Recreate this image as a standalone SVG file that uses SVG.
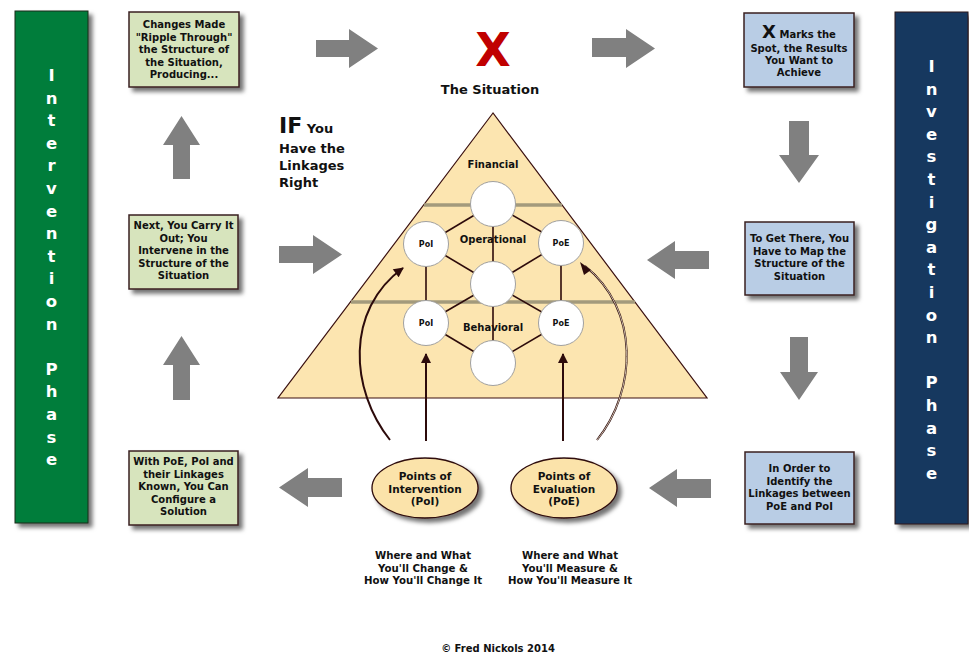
<svg xmlns="http://www.w3.org/2000/svg" width="969" height="654" viewBox="0 0 969 654">
<style>
text{font-family:"DejaVu Sans","Liberation Sans",sans-serif;font-weight:bold;fill:#111;text-anchor:middle}
.bar text{fill:#fff;font-size:16.5px}
.box text{font-size:10px}
.gbox{fill:#d7e4bd;stroke:#3b1f1f;stroke-width:1.5}
.bbox{fill:#b9cde5;stroke:#3b1f1f;stroke-width:1.5}
.arr{fill:#808080}
.lnk{stroke:#2d0b0b;stroke-width:1.6}
.cir{fill:#fff;stroke:#a0a0a0;stroke-width:1}
.lbl{font-size:10px}
.poi{font-size:8px}
.ell{fill:#fbe3aa;stroke:#2d0b0b;stroke-width:1.3}
.et{font-size:10.5px}
.bt{font-size:10.2px}
.pa{fill:none;stroke:#2d0b0b;stroke-width:2}
</style>
<defs>
<filter id="sh" x="-20%" y="-20%" width="150%" height="150%">
<feDropShadow dx="4" dy="4" stdDeviation="2" flood-color="#000" flood-opacity="0.55"/>
</filter>
<marker id="ah" viewBox="0 0 10 10" refX="9" refY="5" markerWidth="5.5" markerHeight="5" orient="auto" markerUnits="strokeWidth">
<path d="M0,0 L10,5 L0,10 z" fill="#2d0b0b"/>
</marker>
</defs>
<rect width="969" height="654" fill="#fff"/>

<g id="intervention-phase" class="bar">
<rect x="15" y="11" width="73" height="512" fill="#067d3a" stroke="#1d2a1d" stroke-width="1" filter="url(#sh)"/>
<text x="51.5" y="81">I</text>
<text x="51.5" y="103.6">n</text>
<text x="51.5" y="126.2">t</text>
<text x="51.5" y="148.8">e</text>
<text x="51.5" y="171.4">r</text>
<text x="51.5" y="194">v</text>
<text x="51.5" y="216.6">e</text>
<text x="51.5" y="239.2">n</text>
<text x="51.5" y="261.8">t</text>
<text x="51.5" y="284.4">i</text>
<text x="51.5" y="307">o</text>
<text x="51.5" y="329.6">n</text>
<text x="51.5" y="374.8">P</text>
<text x="51.5" y="397.4">h</text>
<text x="51.5" y="420">a</text>
<text x="51.5" y="442.6">s</text>
<text x="51.5" y="465.2">e</text>
</g>

<g id="investigation-phase" class="bar">
<rect x="895" y="12" width="73" height="512" fill="#17375e" stroke="#2a1a1a" stroke-width="1" filter="url(#sh)"/>
<text x="931.5" y="72">I</text>
<text x="931.5" y="94.6">n</text>
<text x="931.5" y="117.2">v</text>
<text x="931.5" y="139.8">e</text>
<text x="931.5" y="162.4">s</text>
<text x="931.5" y="185">t</text>
<text x="931.5" y="207.6">i</text>
<text x="931.5" y="230.2">g</text>
<text x="931.5" y="252.8">a</text>
<text x="931.5" y="275.4">t</text>
<text x="931.5" y="298">i</text>
<text x="931.5" y="320.6">o</text>
<text x="931.5" y="343.2">n</text>
<text x="931.5" y="388.4">P</text>
<text x="931.5" y="411">h</text>
<text x="931.5" y="433.6">a</text>
<text x="931.5" y="456.2">s</text>
<text x="931.5" y="478.8">e</text>
</g>

<g id="box-ripple" class="box">
<rect class="gbox" x="129" y="12" width="110" height="75" filter="url(#sh)"/>
<text x="184" y="28">Changes Made</text>
<text x="184" y="40.5">"Ripple Through"</text>
<text x="184" y="53">the Structure of</text>
<text x="184" y="65.5">the Situation,</text>
<text x="184" y="78">Producing...</text>
</g>

<g id="box-carry-out" class="box">
<rect class="gbox" x="129" y="215" width="109" height="74" filter="url(#sh)"/>
<text x="183.5" y="229">Next, You Carry It</text>
<text x="183.5" y="241.5">Out; You</text>
<text x="183.5" y="254">Intervene in the</text>
<text x="183.5" y="266.5">Structure of the</text>
<text x="183.5" y="279">Situation</text>
</g>

<g id="box-configure" class="box">
<rect class="gbox" x="129" y="451" width="109" height="74" filter="url(#sh)"/>
<text x="183.5" y="465">With PoE, PoI and</text>
<text x="183.5" y="477.5">their Linkages</text>
<text x="183.5" y="490">Known, You Can</text>
<text x="183.5" y="502.5">Configure a</text>
<text x="183.5" y="515">Solution</text>
</g>

<g id="box-x-marks" class="box">
<rect class="bbox" x="744" y="13" width="110" height="74" filter="url(#sh)"/>
<text x="799" y="38"><tspan font-size="18px">X</tspan> Marks the</text>
<text x="799" y="52">Spot, the Results</text>
<text x="799" y="64">You Want to</text>
<text x="799" y="76">Achieve</text>
</g>

<g id="box-map" class="box">
<rect class="bbox" x="745" y="222" width="109" height="73" filter="url(#sh)"/>
<text x="799.5" y="242">To Get There, You</text>
<text x="799.5" y="254.5">Have to Map the</text>
<text x="799.5" y="267">Structure of the</text>
<text x="799.5" y="279.5">Situation</text>
</g>

<g id="box-identify" class="box">
<rect class="bbox" x="745" y="452" width="109" height="72" filter="url(#sh)"/>
<text x="799.5" y="472">In Order to</text>
<text x="799.5" y="484.5">Identify the</text>
<text x="799.5" y="497">Linkages between</text>
<text x="799.5" y="509.5">PoE and PoI</text>
</g>

<g id="situation-title">
<text x="493" y="66" font-size="46px" style="fill:#c00000">X</text>
<text x="490" y="94" font-size="13px">The Situation</text>
</g>

<g id="if-label">
<text x="279" y="133" style="text-anchor:start"><tspan font-size="22px">IF</tspan><tspan font-size="13px"> You</tspan></text>
<text x="279" y="153" font-size="13px" style="text-anchor:start">Have the</text>
<text x="279" y="170" font-size="13px" style="text-anchor:start">Linkages</text>
<text x="279" y="187" font-size="13px" style="text-anchor:start">Right</text>
</g>

<g id="pyramid">
<polygon points="493,113 278,398 707,398" fill="#fce5b0" stroke="#3a1010" stroke-width="1.2"/>
<line x1="424" y1="205" x2="562" y2="205" stroke="#a39a7c" stroke-width="3.5"/>
<line x1="351" y1="302" x2="635" y2="302" stroke="#a39a7c" stroke-width="3.5"/>
<text class="lbl" x="493" y="168">Financial</text>
<text class="lbl" x="493" y="331">Behavioral</text>
</g>

<g id="lattice-links">
<line class="lnk" x1="493" y1="204" x2="426" y2="244"/>
<line class="lnk" x1="493" y1="204" x2="561" y2="243"/>
<line class="lnk" x1="493" y1="204" x2="493" y2="284"/>
<line class="lnk" x1="426" y1="244" x2="493" y2="284"/>
<line class="lnk" x1="561" y1="243" x2="493" y2="284"/>
<line class="lnk" x1="426" y1="244" x2="426" y2="323"/>
<line class="lnk" x1="561" y1="243" x2="561" y2="323"/>
<line class="lnk" x1="493" y1="284" x2="426" y2="323"/>
<line class="lnk" x1="493" y1="284" x2="561" y2="323"/>
<line class="lnk" x1="493" y1="284" x2="493" y2="363"/>
<line class="lnk" x1="426" y1="323" x2="493" y2="363"/>
<line class="lnk" x1="561" y1="323" x2="493" y2="363"/>
</g>
<text class="lbl" x="493" y="243">Operational</text>

<g id="circle-top"><circle class="cir" cx="493" cy="204" r="22.5"/></g>
<g id="circle-poi-upper"><circle class="cir" cx="426" cy="244" r="22.5"/><text class="poi" x="426" y="247">PoI</text></g>
<g id="circle-poe-upper"><circle class="cir" cx="561" cy="243" r="22.5"/><text class="poi" x="561" y="246">PoE</text></g>
<g id="circle-center"><circle class="cir" cx="493" cy="284" r="22.5"/></g>
<g id="circle-poi-lower"><circle class="cir" cx="426" cy="323" r="22.5"/><text class="poi" x="426" y="326">PoI</text></g>
<g id="circle-poe-lower"><circle class="cir" cx="561" cy="323" r="22.5"/><text class="poi" x="561" y="326">PoE</text></g>
<g id="circle-bottom"><circle class="cir" cx="493" cy="363" r="22.5"/></g>

<g id="ellipse-poi">
<ellipse class="ell" cx="425" cy="488" rx="53" ry="30" filter="url(#sh)"/>
<text class="et" x="425" y="480">Points of</text>
<text class="et" x="425" y="492.5">Intervention</text>
<text class="et" x="425" y="505">(PoI)</text>
</g>
<g id="ellipse-poe">
<ellipse class="ell" cx="564" cy="488" rx="53" ry="30" filter="url(#sh)"/>
<text class="et" x="564" y="480">Points of</text>
<text class="et" x="564" y="492.5">Evaluation</text>
<text class="et" x="564" y="505">(PoE)</text>
</g>

<g id="note-poi">
<text class="bt" x="423" y="559">Where and What</text>
<text class="bt" x="423" y="571.5">You'll Change &amp;</text>
<text class="bt" x="423" y="584">How You'll Change It</text>
</g>
<g id="note-poe">
<text class="bt" x="570" y="559">Where and What</text>
<text class="bt" x="570" y="571.5">You'll Measure &amp;</text>
<text class="bt" x="570" y="584">How You'll Measure It</text>
</g>

<g id="connectors">
<polygon class="arr" points="316,40 349,40 349,29 378,48.5 349,68 349,57 316,57"/>
<polygon class="arr" points="592,38 626,38 626,29 655,48.5 626,68 626,57 592,57"/>
<polygon class="arr" points="789,121 809,121 809,155 819,155 799,183 779,155 789,155"/>
<polygon class="arr" points="647,260 675,241 675,251 709,251 709,269 675,269 675,279"/>
<polygon class="arr" points="790,337 808,337 808,372 818,372 799,400 780,372 790,372"/>
<polygon class="arr" points="649,488 677,469 677,479 711,479 711,498 677,498 677,507"/>
<polygon class="arr" points="279,487.5 308,468 308,478 342,478 342,497 308,497 308,507"/>
<polygon class="arr" points="181.5,336 200,365 190,365 190,400 173,400 173,365 163,365"/>
<polygon class="arr" points="279,246 313,246 313,235 342,254.5 313,274 313,263 279,263"/>
<polygon class="arr" points="181.5,116 200,145 190,145 190,179 173,179 173,145 163,145"/>
<line class="pa" x1="426" y1="441" x2="426" y2="354" stroke-width="3" marker-end="url(#ah)"/>
<line class="pa" x1="563" y1="441" x2="563" y2="354" stroke-width="3" marker-end="url(#ah)"/>
<path class="pa" d="M390,440 C350,390 345,310 403,268" marker-end="url(#ah)"/>
<path class="pa" d="M597,440 C637,390 640,310 585,266" stroke-width="3.2"/>
<path d="M597,440 C637,390 640,310 585,266" fill="none" stroke="#c8b8a8" stroke-width="1"/>
<path d="M591,270 L580,262 L584,275 z" fill="#2d0b0b"/>
</g>

<text x="498" y="652" font-size="10px">© Fred Nickols 2014</text>
</svg>
